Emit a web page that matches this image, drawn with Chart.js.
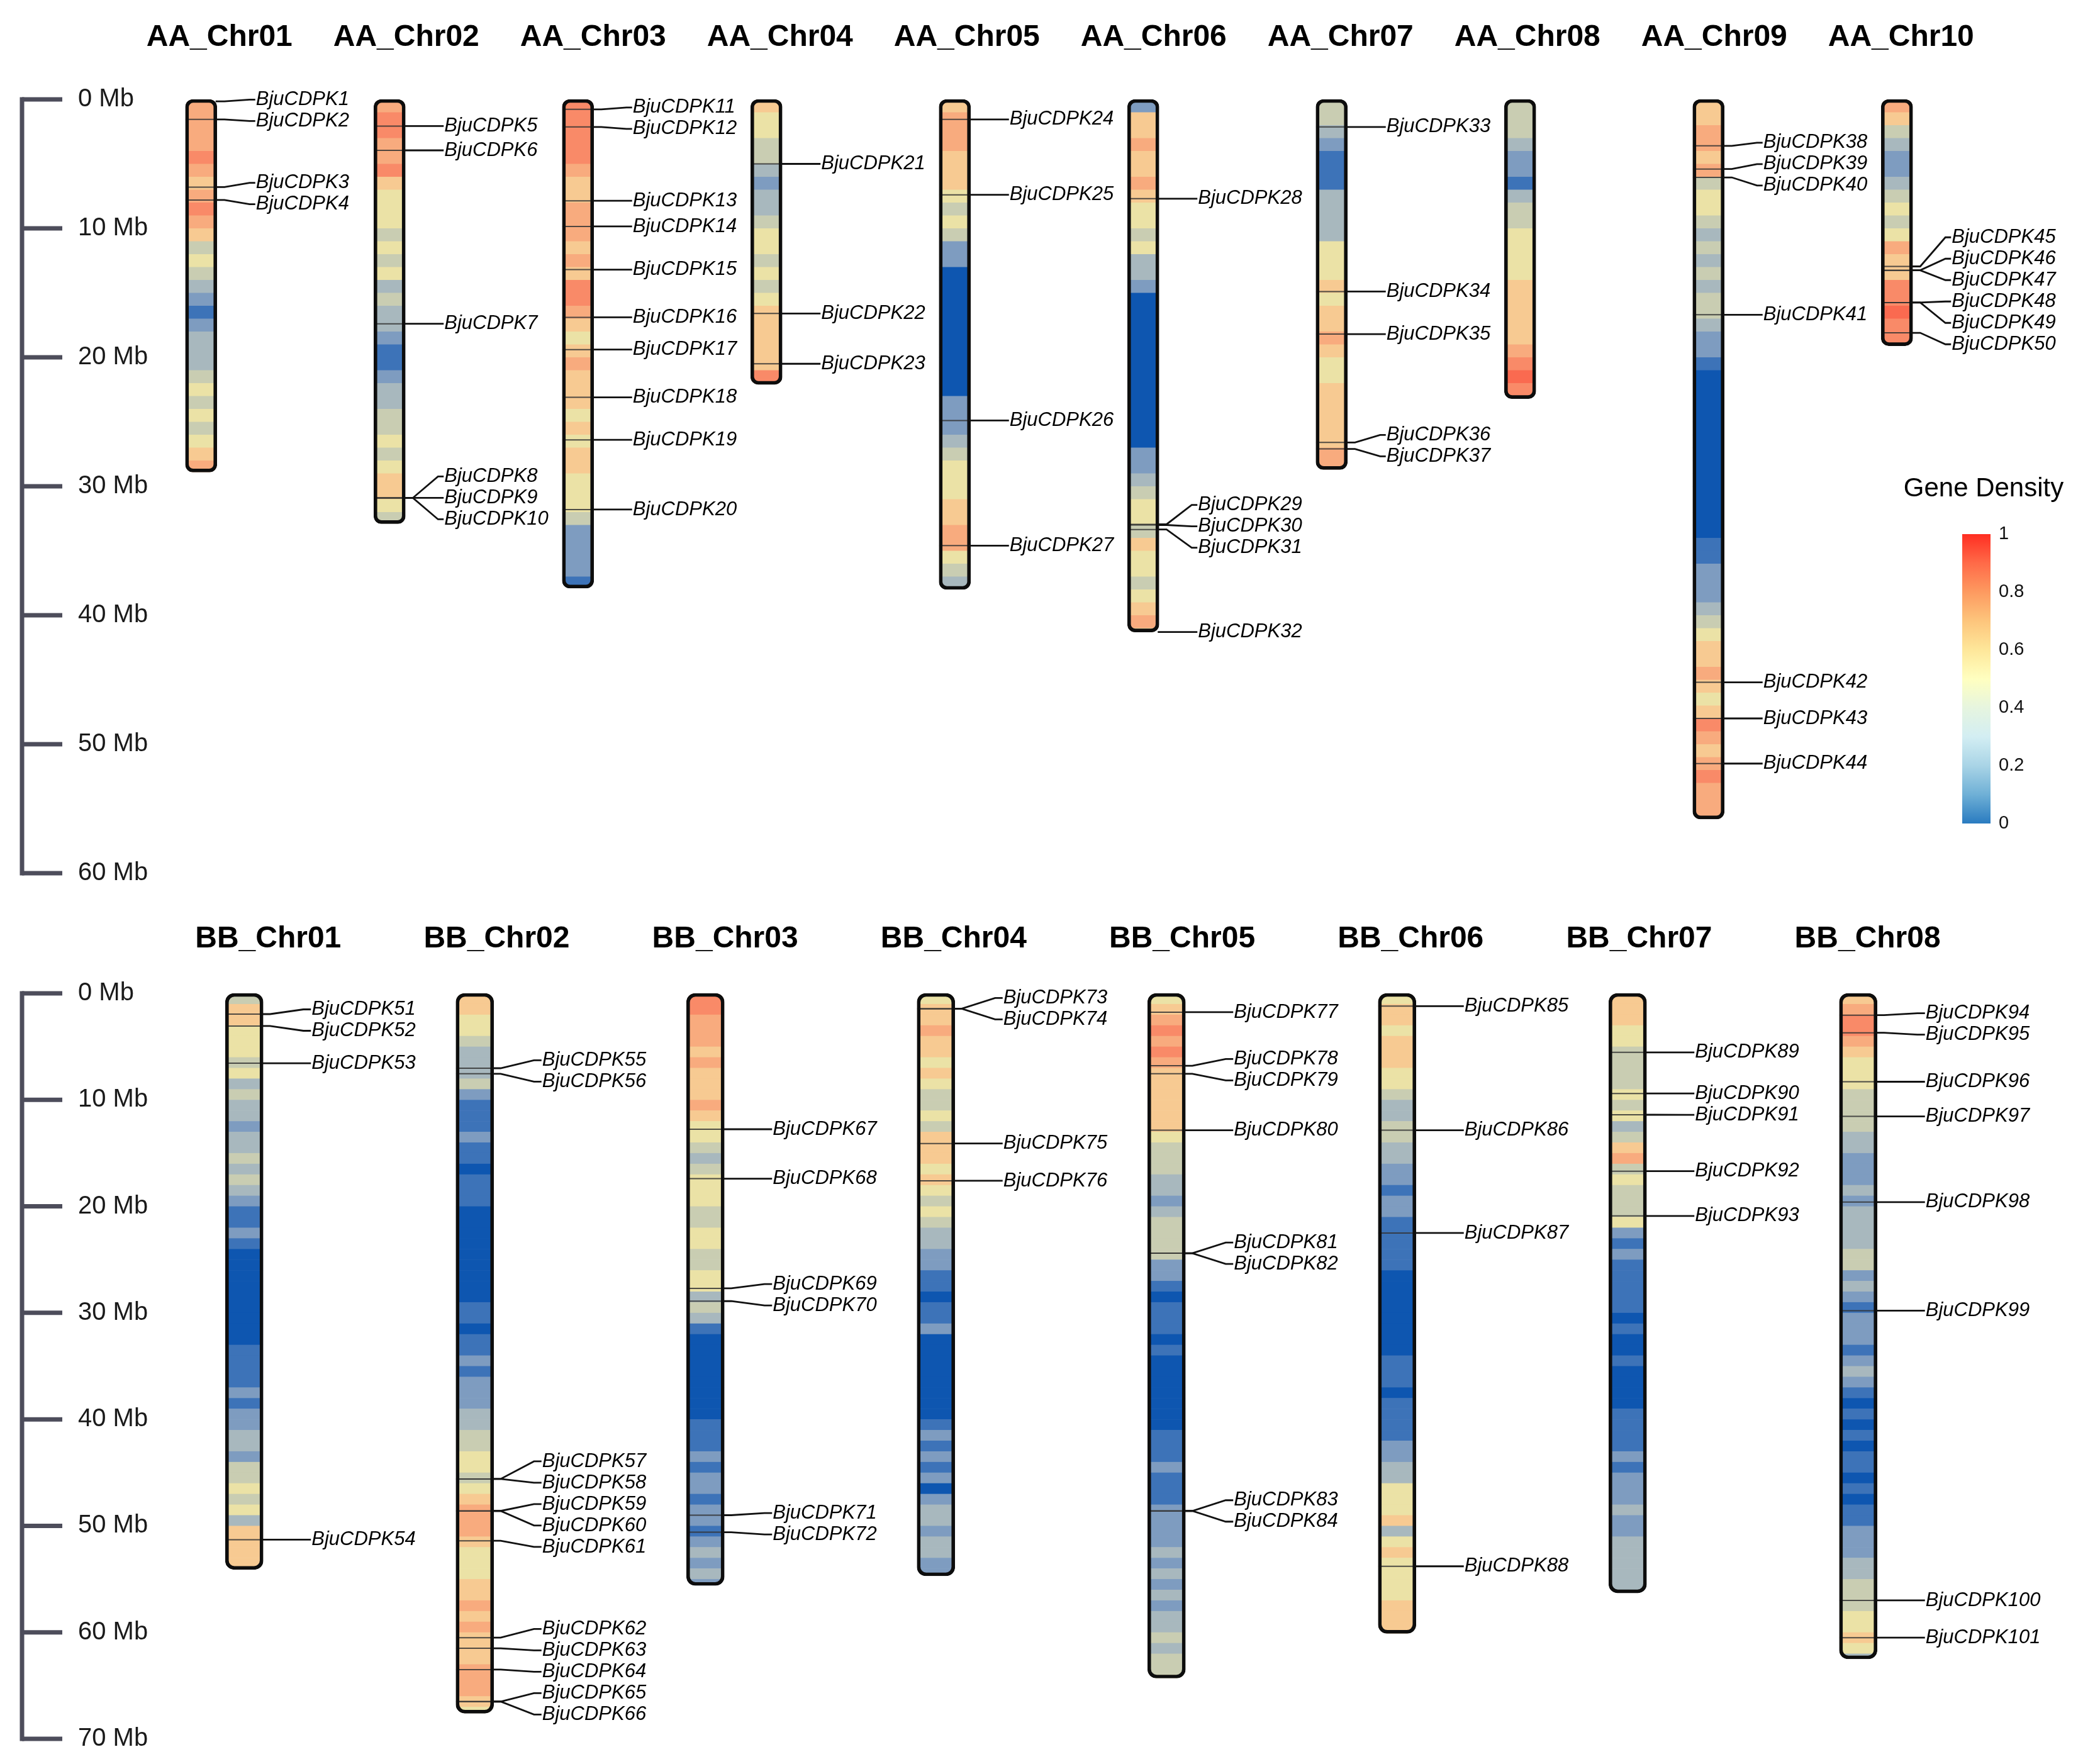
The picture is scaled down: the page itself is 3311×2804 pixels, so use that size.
<!DOCTYPE html>
<html>
<head>
<meta charset="utf-8">
<script src="https://cdn.jsdelivr.net/npm/chart.js@4.4.1/dist/chart.umd.min.js"></script>
<style>
  html, body { margin: 0; padding: 0; background: #fff; }
  #wrap { position: relative; width: 3311px; height: 2804px; }
  canvas { position: absolute; left: 0; }
  #topChart { top: 0; }
  #bottomChart { top: 1440px; }
</style>
</head>
<body>
<div id="wrap">
  <canvas id="topChart" width="3311" height="1440"></canvas>
  <canvas id="bottomChart" width="3311" height="1364"></canvas>
</div>
<script>
// Chromosomes and their lengths (Mb)
const aaChroms = ['AA_Chr01', 'AA_Chr02', 'AA_Chr03', 'AA_Chr04', 'AA_Chr05', 'AA_Chr06', 'AA_Chr07', 'AA_Chr08', 'AA_Chr09', 'AA_Chr10'];
const aaLengths = [28.9, 32.9, 37.9, 22.1, 38.0, 41.3, 28.7, 23.2, 55.8, 19.1];
const bbChroms = ['BB_Chr01', 'BB_Chr02', 'BB_Chr03', 'BB_Chr04', 'BB_Chr05', 'BB_Chr06', 'BB_Chr07', 'BB_Chr08'];
const bbLengths = [54.1, 67.6, 55.6, 54.7, 64.3, 60.1, 56.3, 62.5];

// Gene density, one digit per 1 Mb bin (0 = low ... 9 = high)
const aaDensity = [
    '77778767876454321233345454567',
    '788778655545453433211233445456654',
    '88888766777676887656766656566555422221',
    '65544323345545456666687',
    '67776665454220000000000222345556677543',
    '266766765545332000000000000223455465545675',
    '44321113333555656676556666677',
    '444322134455556666678987',
    '66776745543434344322100000000000001122234566765687678777',
    '76432234545766889887'
];
const bbDensity = [
    '4665554534332334343211210000000001111212233244545366666',
    '66554333421112110111000000000110112122233445545677765556676766677765',
    '88777676667655434555445544553431000000001112122122123232',
    '5667665654454666565454332211011200000000121212023323322',
    '56787876666665444332344442210111010000000111211122223232323343445',
    '5665666554334433221221111100000000111011112233555635655556666',
    '666554444545346745444521211111010010000111121222322333333',
    '678876555444433222323333442321222123210101011010112223344455653'
];

// Gene positions (Mb) per chromosome; numbered BjuCDPK1..101 in this order
const aaGenes = [
    [0.15, 1.55, 6.8, 7.8],
    [2.07, 3.95, 17.4, 30.9, 30.9, 30.9],
    [0.77, 2.14, 7.86, 9.85, 13.2, 16.9, 19.4, 23.1, 26.4, 31.8],
    [5.0, 16.6, 20.5],
    [1.55, 7.4, 24.9, 34.6],
    [7.7, 32.95, 33.0, 33.35, 41.3],
    [2.14, 14.9, 18.2, 26.6, 27.1],
    [],
    [3.6, 5.4, 6.05, 16.7, 45.2, 48.0, 51.5],
    [12.95, 13.25, 13.25, 15.75, 15.75, 18.1]
];
const bbGenes = [
    [1.95, 3.07, 6.56, 51.3],
    [7.03, 7.55, 45.6, 45.6, 48.6, 48.6, 51.4, 60.5, 61.5, 63.5, 66.5, 66.5],
    [12.76, 17.4, 27.7, 28.9, 49.0, 50.6],
    [1.44, 1.44, 14.1, 17.6],
    [1.77, 6.8, 7.55, 12.85, 24.4, 24.4, 48.6, 48.6],
    [1.2, 12.85, 22.5, 53.8],
    [5.54, 9.4, 11.4, 16.7, 20.9],
    [2.05, 3.7, 8.3, 11.55, 19.6, 29.8, 57.0, 60.5]
];

const aaTicks = [0, 10, 20, 30, 40, 50, 60];
const bbTicks = [0, 10, 20, 30, 40, 50, 60, 70];
const legendTicks = [0, 0.2, 0.4, 0.6, 0.8, 1];

// colours for the density levels as they look on the bars
const densityColors = ['#0e56b0', '#3d73b8', '#7e9cc0', '#a8b8be', '#c9cdb2', '#ebe2a6', '#f7ca92', '#f8ab7e', '#f98a68', '#fa6a50'];
// legend colour bar stops
const legendStops = [
    [0, '#2a7bc0'], [0.1, '#6fb0d6'], [0.2, '#a9d4e6'], [0.3, '#d3eef3'], [0.4, '#e6f5df'],
    [0.5, '#ffffc0'], [0.6, '#fee79a'], [0.7, '#fdc57c'], [0.8, '#fd9a60'], [0.9, '#ff6a48'], [1, '#ff2e22']
];

const FONT = '"Liberation Sans", Arial, sans-serif';

function roundRect(ctx, x, y, w, h, r) {
    ctx.beginPath();
    ctx.moveTo(x + r, y);
    ctx.arcTo(x + w, y, x + w, y + h, r);
    ctx.arcTo(x + w, y + h, x, y + h, r);
    ctx.arcTo(x, y + h, x, y, r);
    ctx.arcTo(x, y, x + w, y, r);
    ctx.closePath();
}

// push overlapping labels apart, keeping each group centred on its genes
function spreadLabels(ys, gap) {
    let groups = ys.map(v => ({ sum: v, n: 1, start: v }));
    let changed = true;
    while (changed) {
        changed = false;
        for (let k = 0; k < groups.length - 1; k++) {
            const a = groups[k], b = groups[k + 1];
            if (a.start + a.n * gap > b.start + 0.01) {
                const n = a.n + b.n, sum = a.sum + b.sum;
                groups.splice(k, 2, { sum: sum, n: n, start: sum / n - (n - 1) * gap / 2 });
                changed = true;
                break;
            }
        }
    }
    const out = [];
    groups.forEach(g => {
        for (let m = 0; m < g.n; m++) out.push(g.start + m * gap);
    });
    return out;
}

function ideogram(cfg) {
    return {
        id: 'ideogram',
        beforeDatasetsDraw(chart) {
            const { ctx, scales: { x, y } } = chart;
            const w = cfg.barWidth;
            cfg.lengths.forEach((len, i) => {
                const xc = x.getPixelForValue(i);
                const top = y.getPixelForValue(0), bot = y.getPixelForValue(len);
                const dens = cfg.density[i];
                ctx.save();
                roundRect(ctx, xc - w / 2, top, w, bot - top, cfg.radius);
                ctx.clip();
                for (let j = 0; j < len; j++) {
                    const y0 = y.getPixelForValue(j), y1 = y.getPixelForValue(Math.min(j + 1, len));
                    ctx.fillStyle = densityColors[+dens[Math.min(j, dens.length - 1)]];
                    ctx.fillRect(xc - w / 2, y0, w, y1 - y0 + 0.6);
                }
                ctx.strokeStyle = 'rgba(50,50,50,0.85)';
                ctx.lineWidth = 2;
                cfg.genes[i].forEach(p => {
                    const gy = y.getPixelForValue(p);
                    ctx.beginPath();
                    ctx.moveTo(xc - w / 2, gy);
                    ctx.lineTo(xc + w / 2, gy);
                    ctx.stroke();
                });
                ctx.restore();
            });
        },
        afterDatasetsDraw(chart) {
            const { ctx, scales: { x, y } } = chart;
            const w = cfg.barWidth;
            ctx.save();

            // Mb axis
            ctx.strokeStyle = '#4d4d5b';
            ctx.lineWidth = 7;
            const yA = y.getPixelForValue(cfg.ticks[0]);
            const yB = y.getPixelForValue(cfg.ticks[cfg.ticks.length - 1]);
            ctx.beginPath();
            ctx.moveTo(35, yA - 3.5);
            ctx.lineTo(35, yB + 3.5);
            ctx.stroke();
            ctx.font = '40px ' + FONT;
            ctx.fillStyle = '#1a1a1a';
            ctx.textAlign = 'left';
            ctx.textBaseline = 'middle';
            cfg.ticks.forEach(t => {
                const ty = y.getPixelForValue(t);
                ctx.beginPath();
                ctx.moveTo(35, ty);
                ctx.lineTo(99, ty);
                ctx.stroke();
                ctx.fillText(t + ' Mb', 124, ty);
            });

            // chromosome titles, evenly spaced from the first chromosome
            ctx.font = 'bold 48px ' + FONT;
            ctx.fillStyle = '#000';
            ctx.textAlign = 'center';
            const x0 = x.getPixelForValue(0);
            chart.data.labels.forEach((name, i) => {
                ctx.fillText(name, x0 + cfg.titleOffset + i * cfg.titlePitch, cfg.titleY);
            });

            // gene connectors and labels
            ctx.font = 'italic 31px ' + FONT;
            ctx.textAlign = 'left';
            ctx.strokeStyle = '#111';
            ctx.lineWidth = 2.8;
            let num = cfg.firstGene;
            cfg.genes.forEach((list, i) => {
                const edge = x.getPixelForValue(i) + w / 2;
                const gys = list.map(p => y.getPixelForValue(p));
                const lys = spreadLabels(gys, cfg.gap);
                list.forEach((p, k) => {
                    ctx.beginPath();
                    ctx.moveTo(edge - 2, gys[k]);
                    ctx.lineTo(edge + cfg.stub, gys[k]);
                    ctx.lineTo(edge + cfg.diag, lys[k]);
                    ctx.lineTo(edge + cfg.textGap - 1, lys[k]);
                    ctx.stroke();
                    ctx.fillText('BjuCDPK' + num, edge + cfg.textGap, lys[k]);
                    num++;
                });
            });

            // gene density colour bar
            if (cfg.legend) {
                const lx = 3119, lw = 45, lTop = 849, lBot = 1309;
                ctx.font = '42px ' + FONT;
                ctx.textAlign = 'center';
                ctx.fillText('Gene Density', 3153, 777);
                const grad = ctx.createLinearGradient(0, lBot, 0, lTop);
                legendStops.forEach(s => grad.addColorStop(s[0], s[1]));
                ctx.fillStyle = grad;
                ctx.fillRect(lx, lTop, lw, lBot - lTop);
                ctx.fillStyle = '#111';
                ctx.font = '29px ' + FONT;
                ctx.textAlign = 'left';
                legendTicks.forEach(v => {
                    ctx.fillText(String(v), 3177, lBot - v * (lBot - lTop));
                });
            }
            ctx.restore();
        }
    };
}

function makeChart(id, labels, lengths, yMax, padding, cfg) {
    return new Chart(document.getElementById(id), {
        type: 'bar',
        data: {
            labels: labels,
            datasets: [{
                data: lengths.map(l => [0, l]),
                backgroundColor: 'rgba(0,0,0,0)',
                borderColor: '#0d0d0d',
                borderWidth: 5,
                borderRadius: cfg.radius,
                borderSkipped: false,
                barThickness: cfg.barWidth,
                clip: false
            }]
        },
        options: {
            responsive: false,
            animation: false,
            devicePixelRatio: 1,
            events: [],
            layout: { padding: padding },
            plugins: { legend: { display: false }, tooltip: { enabled: false } },
            scales: {
                x: { display: false },
                y: { display: false, reverse: true, min: 0, max: yMax }
            }
        },
        plugins: [ideogram(cfg)]
    });
}

makeChart('topChart', aaChroms, aaLengths, 60, { left: 170, right: 146, top: 158, bottom: 52 }, {
    lengths: aaLengths, density: aaDensity, genes: aaGenes, ticks: aaTicks, firstGene: 1,
    barWidth: 50, radius: 12, titleOffset: 29, titlePitch: 297, titleY: 60,
    stub: 12, diag: 52, textGap: 62, gap: 34, legend: true
});

makeChart('bottomChart', bbChroms, bbLengths, 70, { left: 205, right: 174, top: 139, bottom: 40 }, {
    lengths: bbLengths, density: bbDensity, genes: bbGenes, ticks: bbTicks, firstGene: 51,
    barWidth: 60, radius: 14, titleOffset: 38, titlePitch: 363.2, titleY: 53,
    stub: 11, diag: 64, textGap: 77, gap: 34, legend: false
});
</script>
</body>
</html>
